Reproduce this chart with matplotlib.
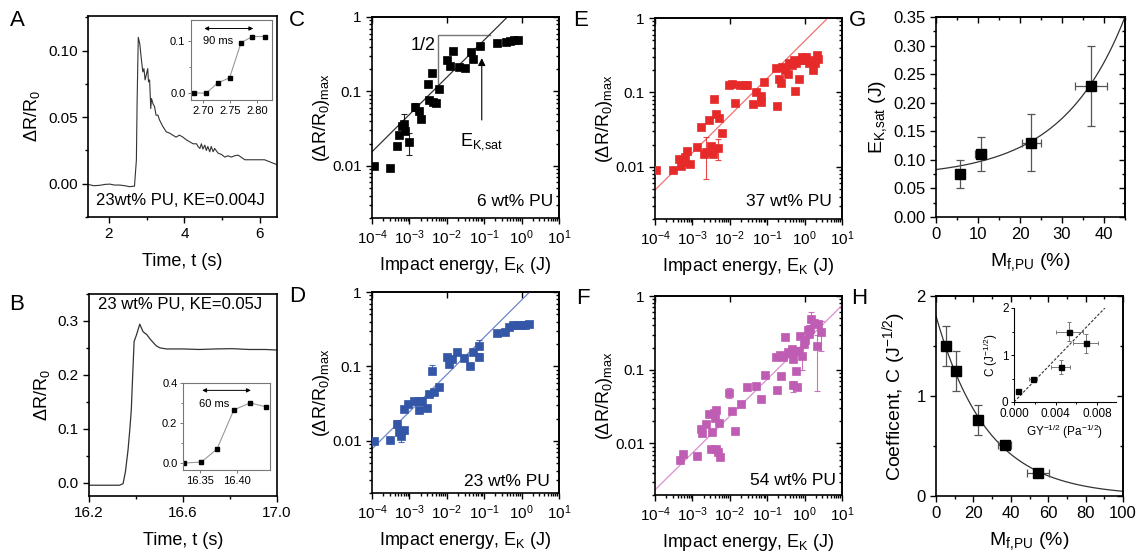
import numpy as np
import matplotlib
matplotlib.use('Agg')
import matplotlib.pyplot as plt
from matplotlib.ticker import (MultipleLocator, FixedLocator, FixedFormatter,
                               LogLocator, NullFormatter, FormatStrFormatter)

# ---------------- data ----------------
# Panel A: 23 wt% PU, KE = 0.004 J
t_A = [1.45, 1.6, 1.76, 1.9, 2.03, 2.15, 2.29, 2.42, 2.55, 2.68, 2.73, 2.75, 2.78, 2.82,
       2.86, 2.90, 2.93, 2.96, 2.99, 3.03, 3.05, 3.08, 3.11, 3.13, 3.17, 3.21, 3.25, 3.30,
       3.34, 3.43, 3.52, 3.61, 3.69, 3.78, 3.87, 3.96, 4.05, 4.14, 4.23, 4.32, 4.36, 4.41,
       4.45, 4.49, 4.54, 4.58, 4.62, 4.67, 4.71, 4.76, 4.80, 4.89, 4.98, 5.07, 5.15, 5.24,
       5.33, 5.42, 5.60, 5.77, 5.95, 6.12, 6.30, 6.43]
dR_A = [-0.0005, -0.0015, -0.0012, -0.0005, -0.0003, -0.001, -0.001, -0.0015, -0.0022,
        -0.0018, 0.0178, 0.063, 0.110, 0.105, 0.094, 0.084, 0.0865, 0.078, 0.0815, 0.0865,
        0.0765, 0.078, 0.0565, 0.064, 0.060, 0.058, 0.0515, 0.0515, 0.048, 0.043, 0.039,
        0.038, 0.0365, 0.035, 0.0365, 0.035, 0.033, 0.0315, 0.030, 0.030, 0.028, 0.0265,
        0.030, 0.026, 0.029, 0.025, 0.028, 0.024, 0.028, 0.024, 0.0265, 0.023, 0.022, 0.020,
        0.021, 0.020, 0.021, 0.0215, 0.018, 0.018, 0.018, 0.018, 0.016, 0.0145]
t_A_in = [2.684, 2.706, 2.727, 2.749, 2.770, 2.791, 2.814]
dR_A_in = [0.0, -0.001, 0.019, 0.029, 0.097, 0.109, 0.109]

# Panel B: 23 wt% PU, KE = 0.05 J
t_B = [16.2, 16.25, 16.30, 16.33, 16.345, 16.355, 16.366, 16.374, 16.380, 16.386, 16.392,
       16.402, 16.416, 16.423, 16.430, 16.445, 16.459, 16.473, 16.487, 16.502, 16.53, 16.6,
       16.67, 16.74, 16.81, 16.88, 16.95, 17.0]
dR_B = [-0.005, -0.005, -0.005, -0.005, -0.002, 0.02, 0.06, 0.10, 0.135, 0.2, 0.262, 0.274,
        0.294, 0.287, 0.28, 0.275, 0.267, 0.26, 0.2535, 0.25, 0.248, 0.248, 0.247, 0.248,
        0.2485, 0.247, 0.247, 0.246]
t_B_in = [16.329, 16.352, 16.373, 16.396, 16.418, 16.440]
dR_B_in = [-0.002, 0.003, 0.068, 0.265, 0.30, 0.28]

# Panel C: 6 wt% PU
C_E = [1.1e-4, 3.1e-4, 4.8e-4, 5.2e-4, 6.2e-4, 7.0e-4, 7.7e-4, 9.5e-4, 1.42e-3, 1.86e-3,
       2.1e-3, 3.2e-3, 3.4e-3, 4.1e-3, 4.2e-3, 5.1e-3, 6.3e-3, 1.04e-2, 1.22e-2, 1.5e-2,
       2.1e-2, 3.1e-2, 4.4e-2, 5.1e-2, 7.7e-2, 0.22, 0.38, 0.49, 0.62, 0.78]
C_R = [0.010, 0.0094, 0.0184, 0.026, 0.034, 0.037, 0.0295, 0.021, 0.061, 0.055, 0.043,
       0.127, 0.076, 0.179, 0.072, 0.071, 0.109, 0.262, 0.220, 0.35, 0.213, 0.209, 0.339,
       0.276, 0.404, 0.45, 0.46, 0.476, 0.486, 0.496]
C_err_idx = [5, 7, 8]
C_err_lo = [0.027, 0.014, 0.055]
C_err_hi = [0.05, 0.028, 0.07]
C_coef = 1.55

# Panel D: 23 wt% PU
D_E = [1.1e-4, 2.95e-4, 4.6e-4, 5.3e-4, 6.1e-4, 7.0e-4, 7.3e-4, 9.1e-4, 1.34e-3, 1.83e-3,
       1.86e-3, 2.15e-3, 3.0e-3, 3.4e-3, 4.0e-3, 4.6e-3, 6.2e-3, 1.0e-2, 1.17e-2, 1.35e-2,
       1.9e-2, 2.9e-2, 4.2e-2, 4.9e-2, 7.2e-2, 7.4e-2, 0.22, 0.36, 0.47, 0.59, 0.76, 1.0,
       1.26, 1.58]
D_R = [0.010, 0.0104, 0.0168, 0.0132, 0.0116, 0.0142, 0.0267, 0.0312, 0.0346, 0.0346,
       0.0259, 0.0343, 0.0281, 0.0425, 0.088, 0.0458, 0.0535, 0.132, 0.107, 0.126, 0.155,
       0.129, 0.100, 0.155, 0.191, 0.136, 0.28, 0.289, 0.337, 0.363, 0.363, 0.363, 0.356,
       0.37]
D_err_idx = [2, 4, 14, 24, 25]
D_err_lo = [0.015, 0.0098, 0.08, 0.17, 0.125]
D_err_hi = [0.019, 0.0135, 0.105, 0.23, 0.15]
D_coef = 0.78

# Panel E: 37 wt% PU
E_E = [1.06e-4, 3.1e-4, 4.5e-4, 4.9e-4, 5.7e-4, 6.3e-4, 7.0e-4, 8.6e-4, 1.35e-3, 1.69e-3,
       2.0e-3, 2.3e-3, 2.8e-3, 3.1e-3, 3.5e-3, 3.8e-3, 4.2e-3, 4.7e-3, 5.2e-3, 6.0e-3,
       9.6e-3, 1.16e-2, 1.42e-2, 1.85e-2, 2.5e-2, 2.9e-2, 4.2e-2, 4.9e-2, 6.7e-2, 7.0e-2,
       8.3e-2, 0.167, 0.18, 0.21, 0.23, 0.25, 0.30, 0.35, 0.39, 0.45, 0.52, 0.55, 0.60,
       0.69, 0.79, 0.87, 0.97, 1.12, 1.29, 1.45, 1.69, 1.86, 2.15, 2.3]
E_R = [0.009, 0.009, 0.0126, 0.0103, 0.0117, 0.0136, 0.0164, 0.0108, 0.0186, 0.0346,
       0.0151, 0.0159, 0.0426, 0.019, 0.0147, 0.081, 0.052, 0.018, 0.045, 0.0287, 0.126,
       0.13, 0.0714, 0.126, 0.126, 0.126, 0.0699, 0.1, 0.0897, 0.0735, 0.14, 0.212, 0.0657,
       0.152, 0.136, 0.22, 0.20, 0.178, 0.25, 0.235, 0.275, 0.106, 0.247, 0.15, 0.275,
       0.304, 0.275, 0.295, 0.25, 0.275, 0.20, 0.25, 0.32, 0.28]
E_err_idx = [4, 11, 17]
E_err_lo = [0.0102, 0.0068, 0.0125]
E_err_hi = [0.0135, 0.025, 0.024]
E_coef = 0.49

# Panel F: 54 wt% PU
F_E = [4.6e-4, 5.5e-4, 1.35e-3, 1.66e-3, 1.83e-3, 2.3e-3, 2.8e-3, 3.1e-3, 3.3e-3, 3.8e-3,
       4.0e-3, 4.2e-3, 4.4e-3, 4.7e-3, 5.1e-3, 5.4e-3, 9.6e-3, 1.16e-2, 1.42e-2, 2.0e-2,
       2.97e-2, 5.0e-2, 7.0e-2, 8.6e-2, 0.167, 0.185, 0.22, 0.24, 0.27, 0.30, 0.36, 0.42,
       0.46, 0.49, 0.49, 0.57, 0.60, 0.63, 0.69, 0.74, 0.85, 0.97, 1.0, 1.2, 1.29, 1.43,
       1.52, 1.78, 2.15, 2.3, 2.8]
F_R = [0.006, 0.0071, 0.0067, 0.0155, 0.0137, 0.0185, 0.0254, 0.0085, 0.0144, 0.026,
       0.022, 0.0285, 0.0083, 0.0076, 0.019, 0.0065, 0.049, 0.0277, 0.0148, 0.034, 0.0586,
       0.06, 0.040, 0.0855, 0.147, 0.053, 0.16, 0.082, 0.147, 0.276, 0.174, 0.168, 0.19,
       0.14, 0.0625, 0.18, 0.097, 0.058, 0.18, 0.286, 0.155, 0.22, 0.25, 0.35, 0.31, 0.36,
       0.49, 0.43, 0.208, 0.42, 0.33]
F_err_idx = [16, 34, 40, 46, 48, 50]
F_err_lo = [0.041, 0.05, 0.10, 0.40, 0.052, 0.18]
F_err_hi = [0.056, 0.07, 0.20, 0.60, 0.30, 0.46]
F_coef = 0.235

# Panel G
G_M = [5.6, 10.6, 22.7, 36.8]
G_Esat = [0.075, 0.11, 0.13, 0.23]
G_Eerr = [0.025, 0.03, 0.05, 0.07]
G_Merr = [0.0, 1.2, 2.2, 3.8]
G_fit = (0.069, 0.014, 15.0)   # y0, A, t  for y = y0 + A*exp(M/t)

# Panel H
H_M = [5.3, 10.7, 22.6, 36.8, 54.6]
H_C = [1.5, 1.25, 0.757, 0.507, 0.233]
H_Cerr = [0.2, 0.2, 0.15, 0.03, 0.03]
H_Merr = [0.0, 0.0, 0.0, 3.5, 5.8]
H_fit = (1.8, 27.4)            # A, t  for y = A*exp(-M/t)
# Panel H inset
Hi_GY = [0.0004, 0.0018, 0.0045, 0.0053, 0.0069]
Hi_C = [0.23, 0.5, 0.75, 1.5, 1.25]
Hi_GYerr = [0.0, 0.0004, 0.0009, 0.0013, 0.0012]
Hi_Cerr = [0.0, 0.0, 0.15, 0.2, 0.2]
Hi_slope = 229.0
Hi_xmax_line = 0.00874

# ---------------- style ----------------
plt.rcParams.update({
    'font.family': ['Liberation Sans', 'DejaVu Sans'],
    'mathtext.fontset': 'custom',
    'mathtext.rm': 'Liberation Sans',
    'mathtext.it': 'Liberation Sans:italic',
    'mathtext.bf': 'Liberation Sans:bold',
    'mathtext.sf': 'Liberation Sans',
    'axes.linewidth': 1.2,
    'axes.unicode_minus': True,
})

W, Hh = 1137, 554
fig = plt.figure(figsize=(W / 100, Hh / 100), dpi=100)


def rect(x0, y0, x1, y1):
    return [x0 / W, 1 - y1 / Hh, (x1 - x0) / W, (y1 - y0) / Hh]


def base_ticks(ax, size=11):
    ax.tick_params(which='both', direction='out', labelsize=size, width=1.0, pad=3)
    ax.tick_params(which='major', length=4.5)
    ax.tick_params(which='minor', length=2.5)


def mirror(ax, xloc=None, yloc=None):
    sx = ax.secondary_xaxis('top')
    sy = ax.secondary_yaxis('right')
    for s, lab in ((sx, dict(labeltop=False)), (sy, dict(labelright=False))):
        s.tick_params(which='both', direction='in', width=1.0, **lab)
        s.tick_params(which='major', length=4.5)
        s.tick_params(which='minor', length=2.5)
    if xloc is not None:
        sx.xaxis.set_major_locator(MultipleLocator(xloc[0]))
        sx.xaxis.set_minor_locator(MultipleLocator(xloc[1]))
    if yloc is not None:
        sy.yaxis.set_major_locator(MultipleLocator(yloc[0]))
        sy.yaxis.set_minor_locator(MultipleLocator(yloc[1]))


def letter(x, y, s):
    fig.text(x / W, 1 - y / Hh, s, fontsize=16, ha='center', va='center')


# ---------------- Panel A ----------------
axA = fig.add_axes(rect(88, 16, 277, 217))
axA.plot(t_A, dR_A, color='#333333', lw=0.8)
axA.set_xlim(1.45, 6.45)
axA.set_ylim(-0.025, 0.126)
axA.xaxis.set_major_locator(MultipleLocator(2))
axA.xaxis.set_minor_locator(MultipleLocator(1))
axA.yaxis.set_major_locator(MultipleLocator(0.05))
axA.yaxis.set_minor_locator(MultipleLocator(0.025))
axA.yaxis.set_major_formatter(FormatStrFormatter('%.2f'))
base_ticks(axA)
axA.set_xlabel('Time, t (s)', fontsize=13, labelpad=8)
axA.set_ylabel('ΔR/R$_\\mathrm{0}$', fontsize=13, labelpad=4)
axA.text(0.487, 0.081, '23wt% PU, KE=0.004J', transform=axA.transAxes,
         fontsize=12, ha='center', va='center')

axAi = fig.add_axes(rect(191, 20, 272, 100))
axAi.plot(t_A_in, dR_A_in, '-', color='#999999', lw=0.8)
axAi.plot(t_A_in, dR_A_in, 's', color='black', ms=2.8, ls='none')
axAi.set_xlim(2.678, 2.827)
axAi.set_ylim(-0.014, 0.141)
axAi.xaxis.set_major_locator(FixedLocator([2.70, 2.75, 2.80]))
axAi.xaxis.set_major_formatter(FormatStrFormatter('%.2f'))
axAi.yaxis.set_major_locator(MultipleLocator(0.1))
axAi.yaxis.set_minor_locator(MultipleLocator(0.05))
axAi.yaxis.set_major_formatter(FormatStrFormatter('%.1f'))
axAi.tick_params(which='both', direction='out', labelsize=8, width=0.7, color='#777777',
                 pad=1.5)
axAi.tick_params(which='major', length=2.5)
axAi.tick_params(which='minor', length=1.5)
for sp in axAi.spines.values():
    sp.set_color('#777777')
    sp.set_linewidth(0.8)
axAi.annotate('', xy=(2.7926, 0.1245), xytext=(2.7024, 0.1245),
              arrowprops=dict(arrowstyle='<|-|>', color='black', lw=0.7, mutation_scale=6,
                              shrinkA=0, shrinkB=0))
axAi.text(2.728, 0.1, '90 ms', fontsize=8, ha='center', va='center')

# ---------------- Panel B ----------------
axB = fig.add_axes(rect(89, 294, 277, 496))
axB.plot(t_B, dR_B, color='#333333', lw=0.9)
axB.set_xlim(16.2, 17.0)
axB.set_ylim(-0.025, 0.35)
axB.xaxis.set_major_locator(FixedLocator([16.2, 16.6, 17.0]))
axB.xaxis.set_minor_locator(FixedLocator([16.4, 16.8]))
axB.yaxis.set_major_locator(MultipleLocator(0.1))
axB.yaxis.set_minor_locator(MultipleLocator(0.05))
axB.xaxis.set_major_formatter(FormatStrFormatter('%.1f'))
axB.yaxis.set_major_formatter(FormatStrFormatter('%.1f'))
base_ticks(axB)
axB.set_xlabel('Time, t (s)', fontsize=13, labelpad=8)
axB.set_ylabel('ΔR/R$_\\mathrm{0}$', fontsize=13, labelpad=4)
axB.text(0.484, 0.946, '23 wt% PU, KE=0.05J', transform=axB.transAxes,
         fontsize=12, ha='center', va='center')

axBi = fig.add_axes(rect(183, 383, 270, 470))
axBi.plot(t_B_in, dR_B_in, '-', color='#999999', lw=0.8)
axBi.plot(t_B_in, dR_B_in, 's', color='black', ms=2.8, ls='none')
axBi.set_xlim(16.327, 16.445)
axBi.set_ylim(-0.037, 0.4)
axBi.xaxis.set_major_locator(FixedLocator([16.35, 16.40]))
axBi.xaxis.set_major_formatter(FormatStrFormatter('%.2f'))
axBi.yaxis.set_major_locator(MultipleLocator(0.2))
axBi.yaxis.set_minor_locator(MultipleLocator(0.1))
axBi.yaxis.set_major_formatter(FormatStrFormatter('%.1f'))
axBi.tick_params(which='both', direction='out', labelsize=8, width=0.7, color='#777777',
                 pad=1.5)
axBi.tick_params(which='major', length=2.5)
axBi.tick_params(which='minor', length=1.5)
for sp in axBi.spines.values():
    sp.set_color('#777777')
    sp.set_linewidth(0.8)
axBi.annotate('', xy=(16.419, 0.363), xytext=(16.353, 0.363),
              arrowprops=dict(arrowstyle='<|-|>', color='black', lw=0.7, mutation_scale=6,
                              shrinkA=0, shrinkB=0))
axBi.text(16.369, 0.297, '60 ms', fontsize=8, ha='center', va='center')


# ---------------- log panels ----------------
def log_panel(box, E, R, eidx, elo, ehi, coef, mcol, lcol, label, lab_xy):
    ax = fig.add_axes(rect(*box))
    ax.set_xscale('log')
    ax.set_yscale('log')
    xf = np.logspace(-4, 1, 200)
    ax.plot(xf, coef * np.sqrt(xf), color=lcol, lw=0.9, zorder=2)
    E = np.asarray(E)
    R = np.asarray(R)
    if eidx:
        ei = np.asarray(eidx)
        ax.errorbar(E[ei], R[ei], yerr=[R[ei] - np.asarray(elo), np.asarray(ehi) - R[ei]],
                    fmt='none', ecolor=mcol, elinewidth=0.8, capsize=2.4, capthick=0.8,
                    alpha=0.85, zorder=3)
    ax.plot(E, R, 's', color=mcol, mec=mcol, ms=5.6, mew=0.5, ls='none', zorder=4)
    ax.set_xlim(1e-4, 1e1)
    ax.set_ylim(0.002, 1)
    ax.xaxis.set_major_locator(LogLocator(base=10, numticks=12))
    ax.xaxis.set_minor_locator(LogLocator(base=10, subs=np.arange(2, 10), numticks=12))
    ax.xaxis.set_minor_formatter(NullFormatter())
    ax.yaxis.set_major_locator(FixedLocator([0.01, 0.1, 1]))
    ax.yaxis.set_major_formatter(FixedFormatter(['0.01', '0.1', '1']))
    ax.yaxis.set_minor_locator(LogLocator(base=10, subs=np.arange(2, 10), numticks=12))
    ax.yaxis.set_minor_formatter(NullFormatter())
    base_ticks(ax)
    mirror(ax)
    ax.set_xlabel('Impact energy, E$_\\mathrm{K}$ (J)', fontsize=13, labelpad=6)
    ax.set_ylabel('(ΔR/R$_\\mathrm{0}$)$_\\mathrm{max}$', fontsize=13, labelpad=0)
    ax.text(lab_xy[0], lab_xy[1], label, transform=ax.transAxes, fontsize=12.5,
            ha='right', va='center')
    return ax


axC = log_panel((372, 17, 559, 218), C_E, C_R, C_err_idx, C_err_lo, C_err_hi, C_coef,
                'black', '#333333', '6 wt% PU', (0.97, 0.083))
axC.plot([5.7e-3, 5.7e-3, 0.143], [0.116, 0.573, 0.573], color='#777777', lw=1.0, zorder=1)
axC.text(2.3e-3, 0.42, '1/2', fontsize=13, ha='center', va='center')
axC.annotate('', xy=(0.086, 0.28), xytext=(0.086, 0.0414),
             arrowprops=dict(arrowstyle='-|>', color='black', lw=0.8, mutation_scale=11,
                             shrinkA=0, shrinkB=0))
axC.text(0.086, 0.0215, 'E$_\\mathrm{K,\\!sat}$', fontsize=13, ha='center', va='center')

axD = log_panel((372, 292, 559, 493), D_E, D_R, D_err_idx, D_err_lo, D_err_hi, D_coef,
                '#3456a6', '#6f86cc', '23 wt% PU', (0.952, 0.058))
axE = log_panel((655, 18, 842, 219), E_E, E_R, E_err_idx, E_err_lo, E_err_hi, E_coef,
                '#e62a2a', '#f07272', '37 wt% PU', (0.945, 0.086))
axF = log_panel((655, 296, 842, 495), F_E, F_R, F_err_idx, F_err_lo, F_err_hi, F_coef,
                '#bf5cb3', '#d98fce', '54 wt% PU', (0.97, 0.072))

# ---------------- Panel G ----------------
axG = fig.add_axes(rect(936, 17, 1125, 217))
Mf = np.linspace(0, 45, 300)
axG.plot(Mf, G_fit[0] + G_fit[1] * np.exp(Mf / G_fit[2]), color='#333333', lw=0.9)
axG.errorbar(G_M, G_Esat, yerr=G_Eerr, xerr=G_Merr, fmt='s', color='black', ms=6.8,
             ecolor='#555555', elinewidth=0.9, capsize=3, capthick=0.9)
axG.set_xlim(0, 45)
axG.set_ylim(0, 0.35)
axG.xaxis.set_major_locator(MultipleLocator(10))
axG.xaxis.set_minor_locator(MultipleLocator(5))
axG.yaxis.set_major_locator(MultipleLocator(0.05))
axG.yaxis.set_minor_locator(MultipleLocator(0.025))
axG.yaxis.set_major_formatter(FormatStrFormatter('%.2f'))
base_ticks(axG, size=12)
mirror(axG, (10, 5), (0.05, 0.025))
axG.set_xlabel('M$_\\mathrm{f,\\!PU}$ (%)', fontsize=14, labelpad=6)
axG.set_ylabel('E$_\\mathrm{K,\\!sat}$ (J)', fontsize=14, labelpad=3)

# ---------------- Panel H ----------------
axH = fig.add_axes(rect(936, 296, 1123, 496))
Mh = np.linspace(0, 100, 300)
axH.plot(Mh, H_fit[0] * np.exp(-Mh / H_fit[1]), color='#333333', lw=0.9)
axH.errorbar(H_M, H_C, yerr=H_Cerr, xerr=H_Merr, fmt='s', color='black', ms=6.8,
             ecolor='#555555', elinewidth=0.9, capsize=3, capthick=0.9)
axH.set_xlim(0, 100)
axH.set_ylim(0, 2)
axH.xaxis.set_major_locator(MultipleLocator(20))
axH.xaxis.set_minor_locator(MultipleLocator(10))
axH.yaxis.set_major_locator(MultipleLocator(1))
axH.yaxis.set_minor_locator(MultipleLocator(0.5))
base_ticks(axH, size=12)
mirror(axH, (20, 10), (1, 0.5))
axH.set_xlabel('M$_\\mathrm{f,\\!PU}$ (%)', fontsize=14, labelpad=6)
axH.set_ylabel('Coefficent, C (J$^{-1/2}$)', fontsize=14, labelpad=6)

axHi = fig.add_axes(rect(1014, 308, 1116, 402))
xl = np.linspace(0, Hi_xmax_line, 50)
axHi.plot(xl, Hi_slope * xl, ls=(0, (2.5, 1.5)), color='#333333', lw=0.8)
axHi.errorbar(Hi_GY, Hi_C, yerr=Hi_Cerr, xerr=Hi_GYerr, fmt='s', color='black', ms=3.6,
              ecolor='#777777', elinewidth=0.7, capsize=1.5, capthick=0.7)
axHi.set_xlim(0, 0.0098)
axHi.set_ylim(0, 2)
axHi.spines['top'].set_visible(False)
axHi.spines['right'].set_visible(False)
for sp in ('left', 'bottom'):
    axHi.spines[sp].set_linewidth(0.8)
axHi.xaxis.set_major_locator(MultipleLocator(0.004))
axHi.xaxis.set_minor_locator(MultipleLocator(0.002))
axHi.xaxis.set_major_formatter(FormatStrFormatter('%.3f'))
axHi.yaxis.set_major_locator(MultipleLocator(1))
axHi.yaxis.set_minor_locator(MultipleLocator(0.5))
axHi.tick_params(which='both', direction='out', labelsize=8.5, width=0.7, pad=1.5)
axHi.tick_params(which='major', length=2.5)
axHi.tick_params(which='minor', length=1.5)
axHi.set_xlabel('GY$^{-1/2}$ (Pa$^{-1/2}$)', fontsize=8.5, labelpad=2)
axHi.set_ylabel('C (J$^{-1/2}$)', fontsize=8.5, labelpad=1)

# ---------------- panel letters ----------------
letter(17, 20, 'A')
letter(17, 304, 'B')
letter(297, 20, 'C')
letter(297, 297, 'D')
letter(581, 20, 'E')
letter(583, 298, 'F')
letter(857, 20, 'G')
letter(859, 298, 'H')

fig.savefig('out.png', dpi=100)
